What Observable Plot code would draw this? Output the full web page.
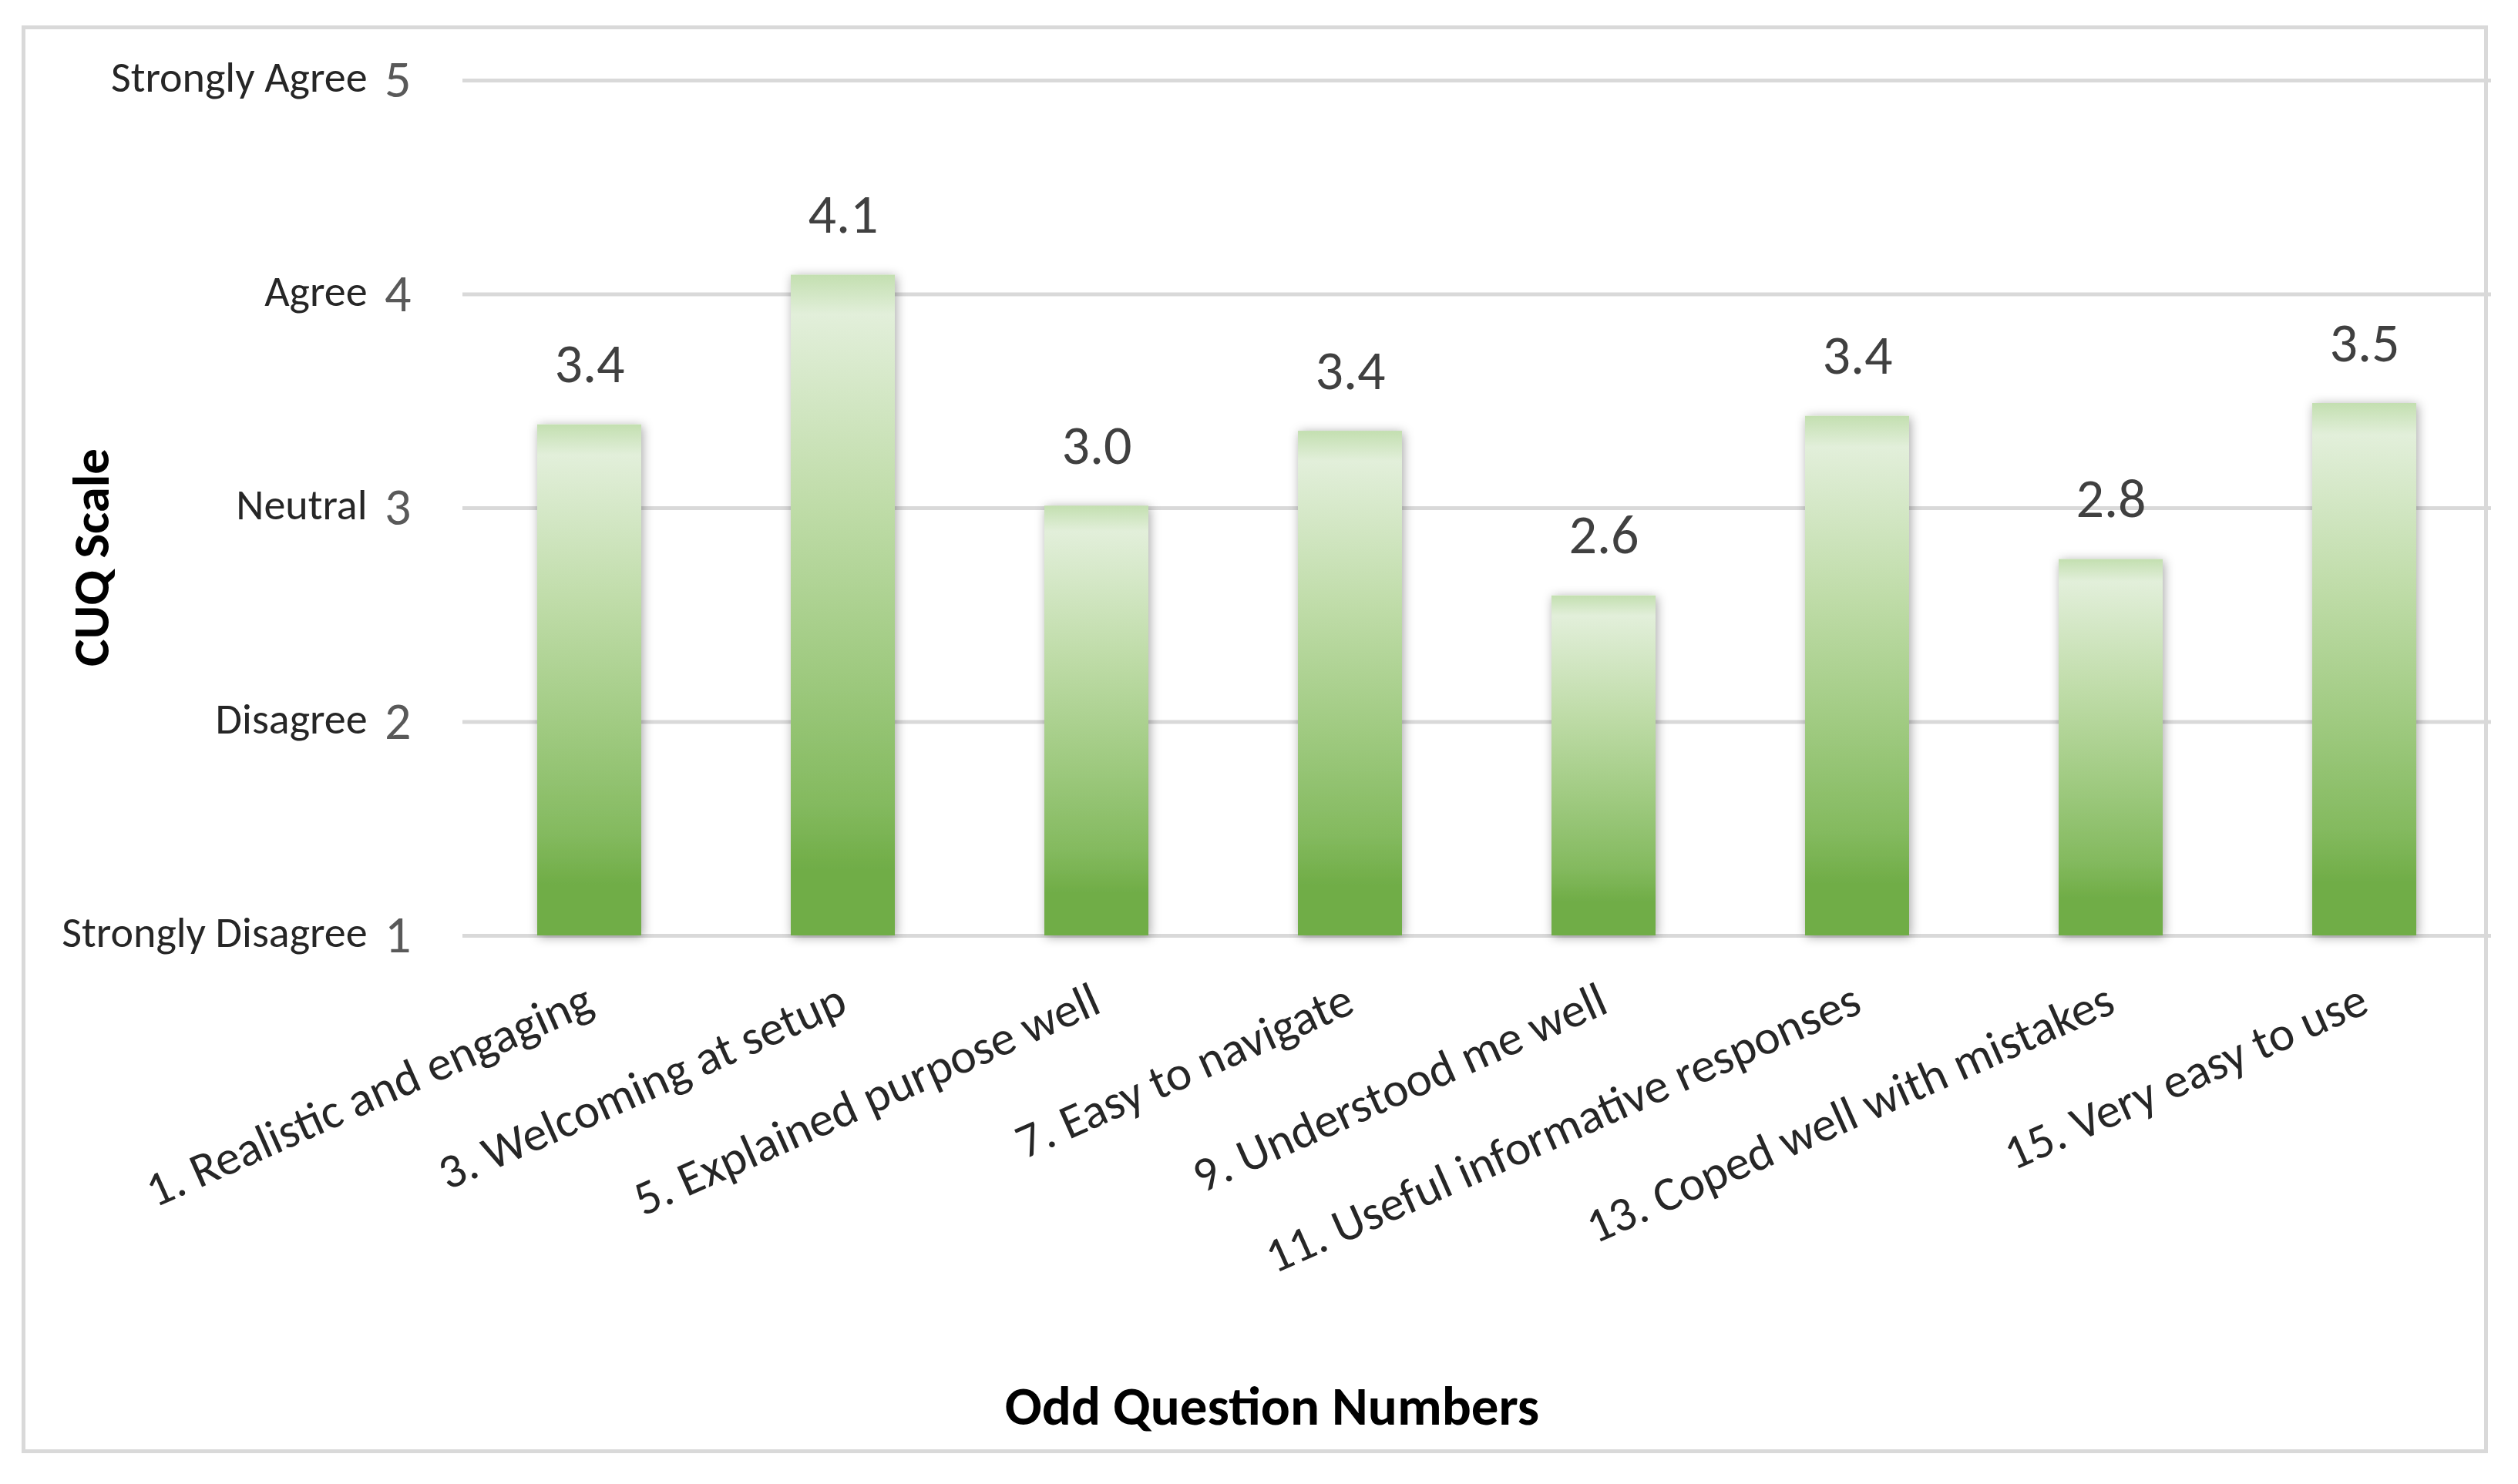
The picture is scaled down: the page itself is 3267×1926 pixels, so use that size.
<!DOCTYPE html>
<html><head><meta charset="utf-8">
<script src="https://cdn.jsdelivr.net/npm/d3@7"></script>
<script src="https://cdn.jsdelivr.net/npm/@observablehq/plot@0.6"></script>
<style>
html,body{margin:0;padding:0;background:#fff;}
#wrap{position:relative;width:3267px;height:1926px;}
#border{position:absolute;left:28px;top:33px;width:3200px;height:1853px;border:5px solid #d9d9d9;pointer-events:none;box-sizing:border-box;}
#wrap svg{position:absolute;left:0;top:0;}
</style></head><body><div id="wrap"><div id="border"></div></div>
<script>
const questions = [
  "1. Realistic and engaging",
  "3. Welcoming at setup",
  "5. Explained purpose well",
  "7. Easy to navigate",
  "9. Understood me well",
  "11. Useful informative responses",
  "13. Coped well with mistakes",
  "15. Very easy to use"
];
const scores = [3.39, 4.09, 3.01, 3.36, 2.59, 3.43, 2.76, 3.49];
const scaleTicks = [1, 2, 3, 4, 5];
const scaleNames = ["Strongly Disagree", "Disagree", "Neutral", "Agree", "Strongly Agree"];
const xTitle = "Odd Question Numbers";
const yTitle = "CUQ Scale";

const data = questions.map((q, i) => ({q, v: scores[i]}));
const FONT = "Carlito, Calibri, Lato, sans-serif";
const fmt = d3.format(".1f");

const chart = Plot.plot({
  width: 3267, height: 1926,
  marginLeft: 600, marginRight: 35, marginTop: 104, marginBottom: 712,
  style: {fontFamily: FONT, background: "transparent", overflow: "visible"},
  x: {domain: questions, paddingInner: 0.59, paddingOuter: 0.295, label: null},
  y: {domain: [1, 5], label: null},
  marks: [
    Plot.gridY(scaleTicks, {stroke: "#d9d9d9", strokeOpacity: 1, strokeWidth: 5}),
    Plot.barY(data, {x: "q", y1: 1, y2: "v", fill: "#70ad47"}),
    Plot.text(data, {x: "q", y: "v", text: d => fmt(d.v), lineAnchor: "bottom", dy: -55, fontSize: 72, fill: "#404040"}),
    Plot.axisY(scaleTicks, {tickSize: 0, tickPadding: 67, fontSize: 68, color: "#595959", label: null, tickFormat: d => String(d)}),
    Plot.axisY(scaleTicks, {tickSize: 0, tickPadding: 124, fontSize: 56, color: "#262626", label: null, tickFormat: d => scaleNames[d - 1], dy: -3}),
    Plot.axisX({tickSize: 0, tickPadding: 80, tickRotate: -24, fontSize: 63, color: "#262626", label: null}),
    Plot.text([yTitle], {frameAnchor: "left", textAnchor: "middle", dx: -481, dy: 64, rotate: -90, text: d => d, fontWeight: "bold", fontSize: 67, fill: "#000"}),
    Plot.text([xTitle], {frameAnchor: "bottom", textAnchor: "middle", dx: -266, dy: 634, text: d => d, fontWeight: "bold", fontSize: 71, fill: "#000"})
  ]
});

// gradient + soft shadow for the bars
const NS = "http://www.w3.org/2000/svg";
const defs = document.createElementNS(NS, "defs");
defs.innerHTML = `
<linearGradient id="barGrad" x1="0" y1="0" x2="0" y2="1">
  <stop offset="0" stop-color="#c3dfb0"/>
  <stop offset="0.06" stop-color="#e2efda"/>
  <stop offset="0.35" stop-color="#bfdca8"/>
  <stop offset="0.6" stop-color="#9fca80"/>
  <stop offset="0.8" stop-color="#84ba5f"/>
  <stop offset="0.9" stop-color="#70ad47"/>
  <stop offset="1" stop-color="#70ad47"/>
</linearGradient>
<filter id="barShadow" x="-50%" y="-20%" width="200%" height="140%">
  <feDropShadow dx="2" dy="2" stdDeviation="7" flood-color="#000" flood-opacity="0.35"/>
</filter>`;
chart.insertBefore(defs, chart.firstChild);
chart.querySelectorAll('g[aria-label="bar"]').forEach(g => {
  g.setAttribute("fill", "url(#barGrad)");
  g.setAttribute("filter", "url(#barShadow)");
  g.querySelectorAll("rect").forEach(r => r.setAttribute("fill", "url(#barGrad)"));
});
document.getElementById("wrap").appendChild(chart);
</script>
</body></html>
